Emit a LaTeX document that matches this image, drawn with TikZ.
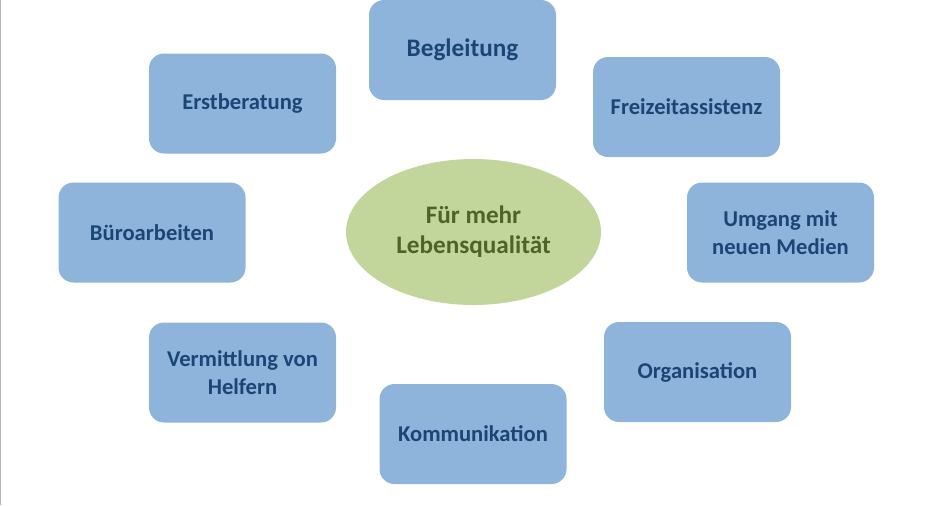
\documentclass[tikz,border=0pt]{standalone}
\usepackage{fontspec}
\setmainfont{Carlito}
\usetikzlibrary{shapes.geometric}
\definecolor{boxblue}{HTML}{8EB4DC}
\definecolor{boxtext}{HTML}{1A4575}
\definecolor{ovalgreen}{HTML}{C2D69B}
\definecolor{ovaltext}{HTML}{4F6228}
\begin{document}
\begin{tikzpicture}[x=0.5pt,y=-0.5pt,line join=round,
	task/.style={rounded corners=7.5pt,fill=boxblue,minimum width=93.5pt,minimum height=50pt,
		inner sep=2pt,text=boxtext,font=\bfseries\fontsize{11.3}{14}\selectfont,align=center},
	goal/.style={ellipse,fill=ovalgreen,minimum width=127.5pt,minimum height=73pt,
		text=ovaltext,font=\bfseries\fontsize{12.6}{15}\selectfont,align=center}]
	\useasboundingbox (0,0) rectangle (942,505);
	\draw[gray!60,line width=0.8pt] (0.5,0)--(0.5,505);
	\node[goal] (mitte) at (473.5,232) {Für mehr\\Lebensqualität};
	\node[task,font=\bfseries\fontsize{12.6}{15}\selectfont] (begleitung) at (462.5,50) {Begleitung};
	\node[task] (freizeit) at (686.5,107) {Freizeitassistenz};
	\node[task] (erst) at (242.5,103.5) {Erstberatung};
	\node[task] (buero) at (152,232.5) {Büroarbeiten};
	\node[task] (medien) at (780.5,232.5) {Umgang mit\\neuen Medien};
	\node[task] (helfer) at (242.5,372.5) {Vermittlung von\\Helfern};
	\node[task] (orga) at (697.5,372) {Organisation};
	\node[task] (komm) at (473,434) {Kommunikation};
\end{tikzpicture}
\end{document}
